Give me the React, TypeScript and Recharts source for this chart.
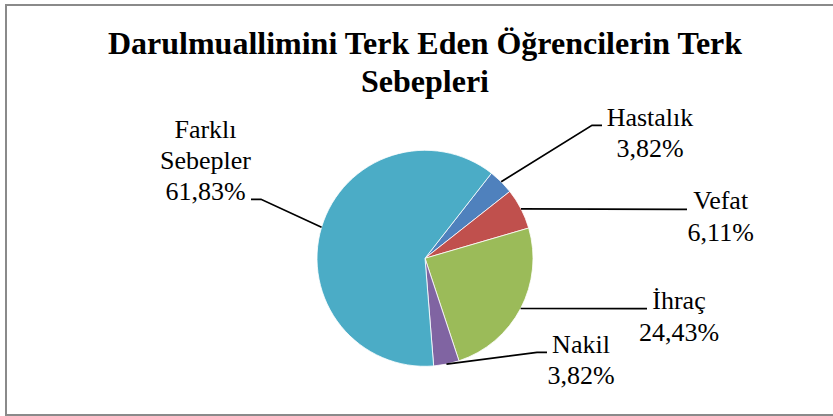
import React from 'react';
import { PieChart, Pie, Cell } from 'recharts';

const categories = ['Hastalık', 'Vefat', 'İhraç', 'Nakil', 'Farklı Sebepler'];
const counts = [5, 8, 32, 5, 81];
const colors = ['#4F81BD', '#C0504D', '#9BBB59', '#8064A2', '#4BACC6'];
const title = ['Darulmuallimini Terk Eden Öğrencilerin Terk', 'Sebepleri'];

// label layout (relative to pie center): leader end, text center x, first baseline y
const labelLayout = [
  { ex: 177, ey: -133, tx: 225, ty: -132.5 },
  { ex: 262, ey: -49, tx: 295.7, ty: -49 },
  { ex: 222, ey: 50.3, tx: 254, ty: 51 },
  { ex: 122, ey: 94, tx: 156, ty: 94.3 },
  { ex: -174, ey: -59, tx: -219.5, ty: -120.7 },
];

const total = counts.reduce((a, b) => a + b, 0);
const data = categories.map((name, i) => ({ name, value: counts[i] }));

const RADIAN = Math.PI / 180;
const FONT = "'Liberation Serif', 'Times New Roman', serif";

const renderLabel = (props: any) => {
  const { cx, cy, midAngle, outerRadius, index, name, value } = props;
  const L = labelLayout[index];
  const ax = cx + outerRadius * Math.cos(-midAngle * RADIAN);
  const ay = cy + outerRadius * Math.sin(-midAngle * RADIAN);
  const ex = cx + L.ex;
  const ey = cy + L.ey;
  const sign = L.ex >= 0 ? 1 : -1;
  const bx = ex - sign * 10;
  const pct = ((value / total) * 100).toFixed(2).replace('.', ',') + '%';
  const lines = [...String(name).split(' '), pct];
  return (
    <g>
      <polyline points={`${ax},${ay} ${bx},${ey} ${ex},${ey}`} fill="none" stroke="#000" strokeWidth={1.7} />
      {lines.map((t, i) => (
        <text
          key={i}
          x={cx + L.tx}
          y={cy + L.ty + i * 31.3}
          textAnchor="middle"
          style={{ fontFamily: FONT, fontSize: '26px' }}
          fill="#000"
        >
          {t}
        </text>
      ))}
    </g>
  );
};

export default function App() {
  return (
    <div style={{ position: 'absolute', left: 0, top: 0, width: 833, height: 416, overflow: 'hidden', background: '#fff' }}>
      <div
        style={{
          position: 'absolute',
          left: 5,
          top: 4,
          width: 840,
          height: 412,
          boxSizing: 'border-box',
          border: '2px solid #8a8a8a',
        }}
      />
      <svg width={833} height={416} style={{ position: 'absolute', left: 0, top: 0 }}>
        <text x={425} y={53.5} textAnchor="middle" style={{ fontFamily: FONT, fontWeight: 'bold', fontSize: 32 }} fill="#000">
          {title[0]}
        </text>
        <text x={425} y={91.5} textAnchor="middle" style={{ fontFamily: FONT, fontWeight: 'bold', fontSize: 32 }} fill="#000">
          {title[1]}
        </text>
      </svg>
      <div style={{ position: 'absolute', left: 0, top: 0 }}>
        <PieChart width={833} height={416} margin={{ top: 0, right: 0, bottom: 0, left: 0 }}>
          <Pie
            data={data}
            dataKey="value"
            nameKey="name"
            cx={425}
            cy={258.3}
            outerRadius={108}
            startAngle={52}
            endAngle={-308}
            stroke="#ffffff"
            strokeWidth={0.8}
            isAnimationActive={false}
            label={renderLabel}
            labelLine={false}
          >
            {data.map((d, i) => (
              <Cell key={d.name} fill={colors[i]} />
            ))}
          </Pie>
        </PieChart>
      </div>
    </div>
  );
}
